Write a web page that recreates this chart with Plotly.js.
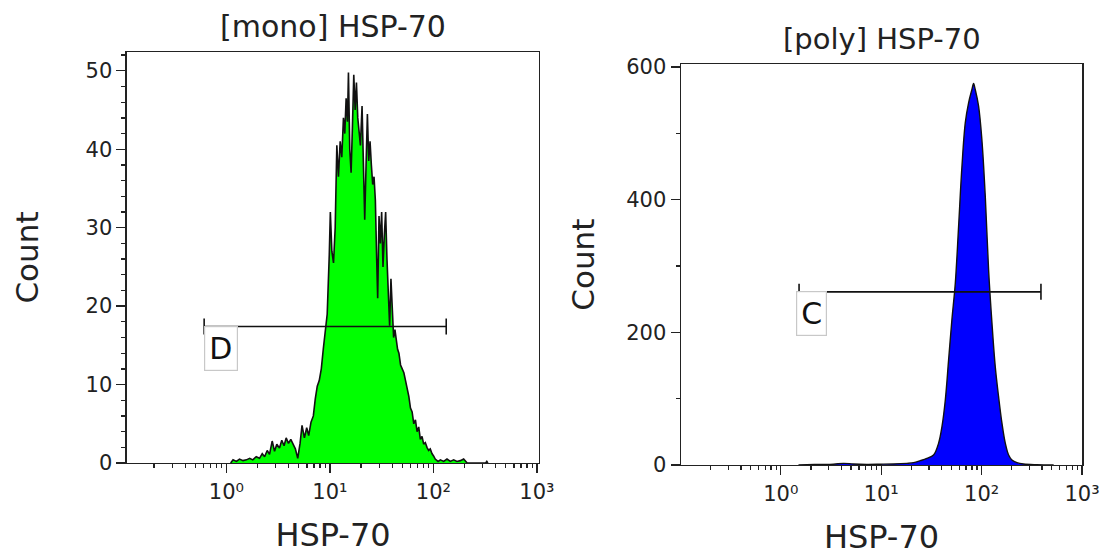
<!DOCTYPE html>
<html><head><meta charset="utf-8">
<script src="https://cdn.plot.ly/plotly-3.0.1.min.js"></script>
<style>html,body{margin:0;padding:0;background:#fff}#chart{width:1105px;height:556px}</style>
</head><body><div id="chart"></div>
<script>
// ---- data ----
const monoX = [1.10,1.16,1.25,1.34,1.45,1.56,1.68,1.80,1.94,2.09,2.22,2.34,2.48,2.61,2.77,2.92,3.07,3.26,3.43,3.61,3.78,3.98,4.19,4.41,4.64,4.89,5.15,5.38,5.67,5.97,6.24,6.57,6.92,7.23,7.55,7.89,8.26,8.63,9.02,9.42,9.86,10.1,10.45,10.84,11.25,11.67,12.1,12.57,13.03,13.52,13.93,14.35,14.78,15.11,15.56,16.03,16.52,17.01,17.53,18.05,18.59,19.15,19.72,20.45,21.07,21.7,22.36,23.03,23.72,24.43,25.16,25.91,26.69,27.49,28.31,28.95,29.82,30.71,31.63,32.58,33.55,34.56,35.6,36.66,37.76,38.89,40.06,41.26,42.49,43.77,45.08,46.43,48.17,49.97,51.84,53.78,55.79,57.87,60.04,62.29,64.62,67.03,69.54,72.14,74.84,77.64,80.54,83.55,86.67,89.91,93.28,96.77,100.4,104.1,110.9,116.8,125.7,135.3,145.6,156.9,169,182,195.9,206,212,320,328,336];
const monoCount = [0,0.4,0.2,0.5,0.3,0.4,0.6,0.4,0.8,0.6,1.2,0.8,1.6,1.1,2.8,1.5,2.4,1.9,2.9,2.2,3.2,2.5,3.0,2.4,1.8,0.6,2.5,4.8,3.2,4.5,3.5,5.2,6.0,8.2,9.8,10.5,12.0,14.5,16.5,19.0,26.5,32.0,27.0,25.5,30.0,40.5,36.5,41.0,39.0,44.0,42.0,46.5,43.5,49.8,40.0,37.0,43.0,49.5,45.0,48.5,44.0,42.5,40.5,45.5,36.0,31.0,38.0,44.5,38.5,41.0,38.0,35.5,36.5,33.5,26.0,21.0,31.5,28.0,32.0,25.0,29.0,32.0,26.0,22.0,17.5,23.5,20.0,16.0,17.0,15.5,14.5,14.0,12.5,12.0,11.5,10.5,9.5,8.5,7.0,6.5,5.0,5.5,4.0,4.6,3.0,3.4,2.4,2.6,2.0,1.6,1.8,1.2,0.9,0.5,0.2,0.4,0.2,0.5,0.2,0.4,0.2,0.3,0.5,0.1,0,0,0.2,0];

const polyX = [1.5,1.82,2.47,3.35,4.21,5.30,7.19,9.77,13.27,18.03,21.0,24.5,28.5,33.2,37.3,40.3,43.5,46.9,50.6,54.7,59.0,63.7,68.8,74.2,80.1,83.2,86.4,93.3,100.7,108.8,117.4,126.8,136.8,147.6,159.5,172.1,185.8,200.6,225,262,356,522];
const polyCount = [0,0.5,0.8,1.2,2.5,1.5,1.0,1.2,1.5,2.5,3.5,6.5,10,15,33,58,98,158,219,274,360,450,516,546,566,575,566,541,490,405,294,214,148,103,63,33,15,7.5,3.5,1.5,0.5,0];

// gates: [start, end, level]
const gateD = [0.61, 133, 17.4];
const gateC = [1.52, 390, 261];
const gateLabels = ['D', 'C'];

const panelTitles = ['[mono] HSP-70', '[poly] HSP-70'];
const xTitle = 'HSP-70';
const yTitle = 'Count';

const decadeTicks = [1, 10, 100, 1000];
const decadeLabels = ['10\u2070', '10\u00b9', '10\u00b2', '10\u00b3'];
const minorTicks = [0.2,0.3,0.4,0.5,0.6,0.7,0.8,0.9,2,3,4,5,6,7,8,9,20,30,40,50,60,70,80,90,200,300,400,500,600,700,800,900];
const monoYTicks = [0,10,20,30,40,50];
const polyYTicks = [0,200,400,600];

// ---- drawing ----
const FONT = 'DejaVu Sans, Arial, sans-serif';
const INK = '#222';

const traces = [
  {x: monoX, y: monoCount, xaxis: 'x', yaxis: 'y', type: 'scatter', mode: 'lines',
   fill: 'tozeroy', fillcolor: '#00ff00', line: {color: '#111', width: 1.6}, hoverinfo: 'x+y'},
  {x: polyX, y: polyCount, xaxis: 'x2', yaxis: 'y2', type: 'scatter', mode: 'lines',
   fill: 'tozeroy', fillcolor: '#0000ff', line: {color: '#111', width: 1.4, shape: 'spline'}, hoverinfo: 'x+y'}
];

function xAxis(domain, anchor, range) {
  return {
    type: 'log', domain: domain, anchor: anchor, range: range,
    tickmode: 'array', tickvals: decadeTicks, ticktext: decadeLabels,
    ticks: 'outside', ticklen: 9, tickwidth: 1.3, tickcolor: INK,
    minor: {tickmode: 'array', tickvals: minorTicks, ticks: 'outside', ticklen: 4, tickwidth: 1.3, tickcolor: INK, showgrid: false},
    showline: true, linecolor: INK, linewidth: 1.5, mirror: true,
    showgrid: false, zeroline: false, automargin: false,
    tickfont: {family: FONT, size: 21, color: INK},
    title: {text: xTitle, font: {family: FONT, size: 32, color: INK}, standoff: 21}
  };
}
function yAxis(domain, anchor, range, vals, minorStep, standoff) {
  return {
    domain: domain, anchor: anchor, range: range,
    tickmode: 'array', tickvals: vals,
    ticks: 'outside', ticklen: 9, tickwidth: 1.3, tickcolor: INK,
    minor: {dtick: minorStep, ticks: 'outside', ticklen: 4, tickwidth: 1.3, tickcolor: INK, showgrid: false},
    showline: true, linecolor: INK, linewidth: 1.5, mirror: true,
    showgrid: false, zeroline: false, automargin: false,
    tickfont: {family: FONT, size: 21, color: INK},
    title: {text: yTitle, font: {family: FONT, size: 31, color: INK}, standoff: standoff}
  };
}

function gateShapes(g, xr, yr) {
  const ln = {color: '#111', width: 1.6};
  return [
    {type: 'line', xref: xr, yref: yr, x0: g[0], x1: g[1], y0: g[2], y1: g[2], line: ln},
    {type: 'line', xref: xr, yref: yr, x0: g[0], x1: g[0], ysizemode: 'pixel', yanchor: g[2], y0: -8, y1: 8, line: ln},
    {type: 'line', xref: xr, yref: yr, x0: g[1], x1: g[1], ysizemode: 'pixel', yanchor: g[2], y0: -8, y1: 8, line: ln}
  ];
}
function gateLabel(g, txt, xr, yr, xs) {
  return {xref: xr, yref: yr, x: Math.log10(g[0]), y: g[2], xanchor: 'left', yanchor: 'top',
    xshift: xs, yshift: 1, text: txt, showarrow: false,
    font: {family: FONT, size: 30, color: '#111'},
    bordercolor: '#c8c8c8', borderwidth: 1.2, borderpad: 4, bgcolor: '#fff'};
}

const layout = {
  width: 1105, height: 556,
  margin: {l: 0, r: 0, t: 0, b: 0},
  paper_bgcolor: '#fff', plot_bgcolor: '#fff',
  showlegend: false,
  xaxis: xAxis([0.11493, 0.48778], 'y', [-0.96, 3.02]),
  yaxis: yAxis([0.16727, 0.90647], 'x', [0, 52.4], monoYTicks, 2, 37),
  xaxis2: xAxis([0.61629, 0.97919], 'y2', [-0.994, 3.0]),
  yaxis2: yAxis([0.16367, 0.88435], 'x2', [0, 604], polyYTicks, 100, 22),
  shapes: [].concat(gateShapes(gateD, 'x', 'y'), gateShapes(gateC, 'x2', 'y2')),
  annotations: [
    {xref: 'x domain', yref: 'y domain', x: 0.5, y: 1, yanchor: 'bottom', yshift: 6, showarrow: false,
     text: panelTitles[0], font: {family: FONT, size: 30, color: INK}},
    {xref: 'x2 domain', yref: 'y2 domain', x: 0.5, y: 1, yanchor: 'bottom', yshift: 6, showarrow: false,
     text: panelTitles[1], font: {family: FONT, size: 29, color: INK}},
    gateLabel(gateD, gateLabels[0], 'x', 'y', 0),
    gateLabel(gateC, gateLabels[1], 'x2', 'y2', -3)
  ]
};

Plotly.newPlot('chart', traces, layout, {displayModeBar: false, staticPlot: true});
</script></body></html>
